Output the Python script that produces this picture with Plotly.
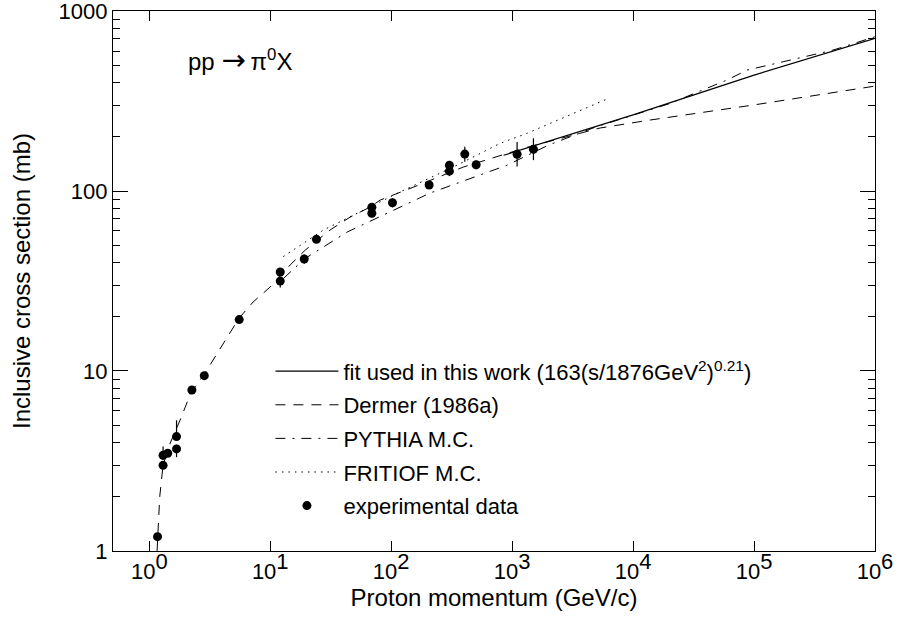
import plotly.graph_objects as go

# ---------------- data ----------------
# experimental data
exp_p = [1.17, 1.30, 1.30, 1.42, 1.68, 1.68, 2.25, 2.85, 5.54, 12.1, 12.1, 19.1, 24.1,
         69.2, 69.2, 102.5, 206, 303, 303, 406, 504, 1099, 1500]
exp_sigma = [1.2, 2.99, 3.40, 3.49, 4.32, 3.69, 7.84, 9.42, 19.3, 35.5, 31.6, 41.9, 53.9,
             81.2, 75.2, 86.1, 108, 139, 129, 160.5, 140, 160, 170.5]
exp_err_hi = [0.05, 0.15, 0.4, 0.15, 1.0, 0.2, 0.3, 0.3, 0.8, 1.5, 1.5, 2.5, 2.0,
              3.0, 4.0, 5.0, 5.0, 8.0, 8.0, 16, 8.0, 27, 26]
exp_err_lo = [0.05, 0.15, 0.2, 0.15, 0.2, 0.37, 0.3, 0.3, 0.8, 1.5, 2.5, 2.5, 2.0,
              3.0, 4.0, 5.0, 5.0, 8.0, 8.0, 15, 8.0, 23, 22]

# fit used in this work
fit_p = [850, 1e4, 1e5, 1e6]
fit_sigma = [158, 265, 441, 705]

# Dermer (1986a)
der_p = [1.16, 1.22, 1.30, 1.49, 1.80, 2.22, 2.85, 5.54, 7.23, 10.0, 14.6, 19.5, 31.3,
         45.7, 67, 81, 152, 396, 1330, 1800, 5330, 13800, 1e5, 1e6]
der_sigma = [1.0, 2.0, 3.0, 3.98, 5.34, 7.64, 9.6, 19.7, 24.2, 29.3, 38.8, 47, 60.8,
             71.6, 81.5, 89, 105, 136, 175, 185, 224, 248, 301, 383]

# PYTHIA M.C.
pyt_p = [12.9, 19.1, 43.3, 85.9, 119, 210, 904, 2000, 5000, 20000, 59800, 87600,
         174000, 450000, 1e6]
pyt_sigma = [32.7, 41.9, 59.2, 73.5, 81.5, 97.5, 139, 180, 228, 306, 414, 470,
             523, 607, 720]

# FRITIOF M.C.
fri_p = [12.8, 27.6, 37.8, 119, 349, 794, 1320, 6250]
fri_sigma = [43.2, 60.8, 67.5, 99, 139, 184, 209, 327]

x_tickvals = [1, 10, 100, 1000, 1e4, 1e5, 1e6]
x_exponents = ["0", "1", "2", "3", "4", "5", "6"]
y_tickvals = [1, 10, 100, 1000]
y_ticktext = ["1", "10", "100", "1000"]

FONT = "Liberation Sans, Arial, Helvetica, sans-serif"
x_ticktext = ["10<sup><span style='font-size:22px'>%s</span></sup>" % e for e in x_exponents]

fig = go.Figure()

fig.add_trace(go.Scatter(
    x=fit_p, y=fit_sigma, mode="lines",
    line=dict(color="black", width=1.2),
    name="fit used in this work (163(s/1876GeV<sup>2</sup>)<sup>0.21</sup>)",
    legendgroup="a"))
fig.add_trace(go.Scatter(
    x=der_p, y=der_sigma, mode="lines",
    line=dict(color="black", width=1, dash="10px,8px"),
    name="Dermer (1986a)", legendgroup="b"))
fig.add_trace(go.Scatter(
    x=pyt_p, y=pyt_sigma, mode="lines",
    line=dict(color="black", width=1, dash="10px,7px,2px,7px"),
    name="PYTHIA M.C.", legendgroup="c"))
fig.add_trace(go.Scatter(
    x=fri_p, y=fri_sigma, mode="lines",
    line=dict(color="black", width=1, dash="1.5px,5px"),
    name="FRITIOF M.C.", legendgroup="d"))
fig.add_trace(go.Scatter(
    x=exp_p, y=exp_sigma, mode="markers",
    marker=dict(color="black", size=9, symbol="circle"),
    error_y=dict(type="data", symmetric=False, array=exp_err_hi, arrayminus=exp_err_lo,
                 color="black", thickness=1.2, width=0),
    name="experimental data", legendgroup="e"))

fig.add_annotation(
    x=0.096, y=0.909, xref="paper", yref="paper", xanchor="left", yanchor="middle",
    text="pp <span style='font-family:DejaVu Sans;font-size:29px'>\u2192</span>\u2009\u03c0<sup>0</sup>X",
    showarrow=False,
    font=dict(family=FONT, size=24, color="black"))

fig.update_layout(
    width=901, height=624,
    margin=dict(l=113, r=26, t=11, b=73, autoexpand=False),
    paper_bgcolor="white", plot_bgcolor="white",
    font=dict(family=FONT, size=22, color="black"),
    showlegend=True,
    legend=dict(
        x=0.2066, y=0.3715, xanchor="left", yanchor="top",
        bgcolor="rgba(0,0,0,0)", borderwidth=0,
        font=dict(family=FONT, size=22, color="black"),
        itemwidth=63, tracegroupgap=2, traceorder="grouped",
        itemclick=False),
)

fig.update_xaxes(
    type="log", range=[-0.3, 6],
    tickvals=x_tickvals, ticktext=x_ticktext,
    ticks="inside", ticklen=10, tickwidth=1, tickcolor="black",
    showline=True, linecolor="black", linewidth=1.3, mirror="ticks",
    showgrid=False, zeroline=False, ticklabeloverflow="allow", automargin=False,
    tickfont=dict(family=FONT, size=22),
    title=dict(text="Proton momentum (GeV/c)", font=dict(family=FONT, size=24), standoff=2),
)
fig.update_yaxes(
    type="log", range=[-0.0005, 3.0005],
    tickvals=y_tickvals, ticktext=y_ticktext,
    ticks="inside", ticklen=15, tickwidth=1, tickcolor="black",
    minor=dict(ticks="inside", ticklen=7, tickcolor="black", dtick="D1", showgrid=False),
    showline=True, linecolor="black", linewidth=1.3, mirror="ticks",
    showgrid=False, zeroline=False, ticklabeloverflow="allow", automargin=False,
    tickfont=dict(family=FONT, size=22),
    title=dict(text="Inclusive cross section (mb)", font=dict(family=FONT, size=24), standoff=21),
)

fig.write_html("out.html")
